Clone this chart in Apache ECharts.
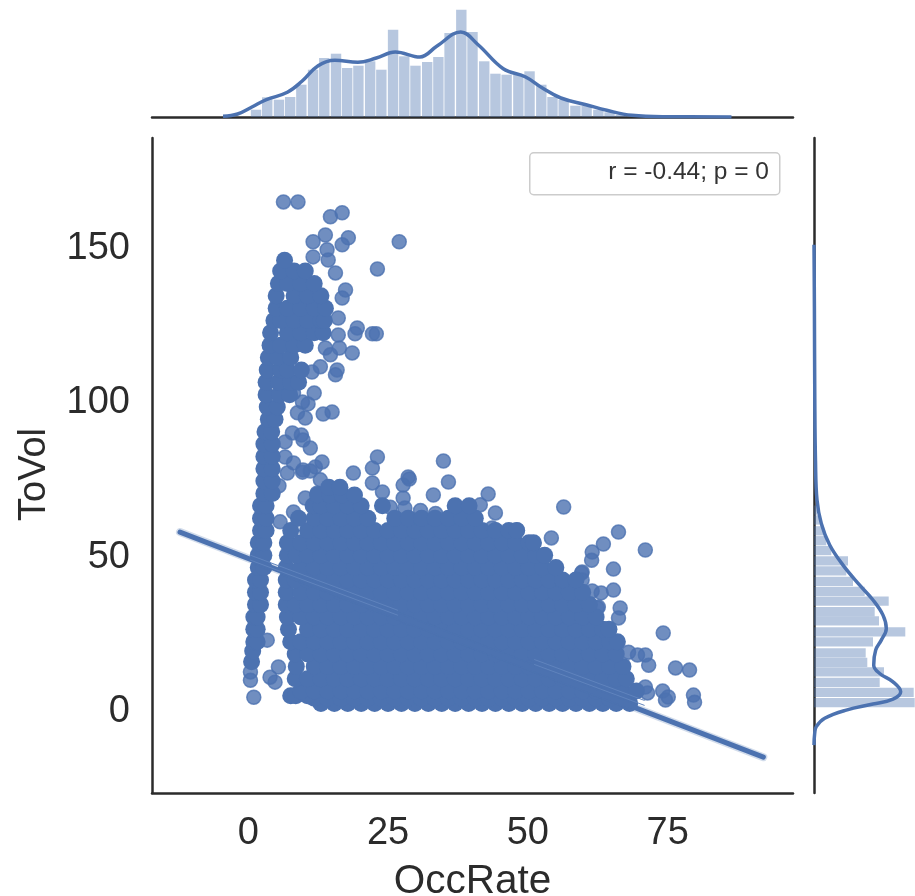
<!DOCTYPE html>
<html>
<head>
<meta charset="utf-8">
<style>
html,body{margin:0;padding:0;background:#fff}
#chart{width:915px;height:896px}
</style>
<script src="https://cdn.jsdelivr.net/npm/echarts@6/dist/echarts.min.js"></script>
</head>
<body>
<div id="chart"></div>
<script>
// tick labels
const occTicks = [0, 25, 50, 75]
const volTicks = [0, 50, 100, 150]

// scatter, solid part: one list of OccRate values per ToVol row
const coreRowY = [1.5, 3.2, 4, 5.5, 9.5, 13.5, 17.5, 21.5, 25.5, 29.5, 33.5, 37.5, 41.5, 45.5, 49.5, 53.5, 57.5, 61.5, 65.5, 69, 71.5]
const coreRowX = [
    [13, 15.4, 17.8, 20.2, 22.6, 25, 27.4, 29.8, 32.2, 34.6, 37, 39.4, 41.8, 44.2, 46.6, 49, 51.4, 53.8, 56.2, 58.6, 61, 63.4, 65.8, 68.2],
    [11.8, 14.2, 16.6, 19, 21.4, 23.8, 26.2, 28.6, 31, 33.4, 35.8, 38.2, 40.6, 43, 45.4, 47.8, 50.2, 52.6, 55, 57.4, 59.8, 62.2, 64.6, 67],
    [7.6, 8.5, 10.6],
    [9.4, 11.8, 14.2, 16.6, 19, 21.4, 23.8, 26.2, 28.6, 31, 33.4, 35.8, 38.2, 40.6, 43, 45.4, 47.8, 50.2, 52.6, 55, 57.4, 59.8, 62.2, 64.6, 67, 69.4],
    [8.4, 10.6, 13, 15.4, 17.8, 20.2, 22.6, 25, 27.4, 29.8, 32.2, 34.6, 37, 39.4, 41.8, 44.2, 46.6, 49, 51.4, 53.8, 56.2, 58.6, 61, 63.4, 65.8, 67.6],
    [8.6, 11.8, 14.2, 16.6, 19, 21.4, 23.8, 26.2, 28.6, 31, 33.4, 35.8, 38.2, 40.6, 43, 45.4, 47.8, 50.2, 52.6, 55, 57.4, 59.8, 62.2, 64.6, 67],
    [8.4, 10.6, 13, 15.4, 17.8, 20.2, 22.6, 25, 27.4, 29.8, 32.2, 34.6, 37, 39.4, 41.8, 44.2, 46.6, 49, 51.4, 53.8, 56.2, 58.6, 61, 63.4, 65.8],
    [7.6, 9.4, 11.8, 14.2, 16.6, 19, 21.4, 23.8, 26.2, 28.6, 31, 33.4, 35.8, 38.2, 40.6, 43, 45.4, 47.8, 50.2, 52.6, 55, 57.4, 59.8, 62.2, 64.6, 66],
    [7.2, 10.6, 13, 15.4, 17.8, 20.2, 22.6, 25, 27.4, 29.8, 32.2, 34.6, 37, 39.4, 41.8, 44.2, 46.6, 49, 51.4, 53.8, 56.2, 58.6, 61, 63.4, 64.5],
    [7, 9.4, 11.8, 14.2, 16.6, 19, 21.4, 23.8, 26.2, 28.6, 31, 33.4, 35.8, 38.2, 40.6, 43, 45.4, 47.8, 50.2, 52.6, 55, 57.4, 59.8, 62.2],
    [6.8, 8.4, 10.6, 13, 15.4, 17.8, 20.2, 22.6, 25, 27.4, 29.8, 32.2, 34.6, 37, 39.4, 41.8, 44.2, 46.6, 49, 51.4, 53.8, 56.2, 58.6, 61],
    [6.8, 9.4, 11.8, 14.2, 16.6, 19, 21.4, 23.8, 26.2, 28.6, 31, 33.4, 35.8, 38.2, 40.6, 43, 45.4, 47.8, 50.2, 52.6, 55, 57.4, 59.8],
    [6.8, 8.4, 10.6, 13, 15.4, 17.8, 20.2, 22.6, 25, 27.4, 29.8, 32.2, 34.6, 37, 39.4, 41.8, 44.2, 46.6, 49, 51.4, 53.8, 56.2, 58.6],
    [6.8, 9.4, 11.8, 14.2, 16.6, 19, 21.4, 23.8, 26.2, 28.6, 31, 33.4, 35.8, 38.2, 40.6, 43, 45.4, 47.8, 50.2, 52.6, 55],
    [7, 8.6, 10.6, 13, 15.4, 17.8, 20.2, 22.6, 25, 27.4, 29.8, 32.2, 34.6, 37, 39.4, 41.8, 44.2, 46.6, 49, 51.4, 53],
    [7, 9.4, 11.8, 14.2, 16.6, 19, 21.4, 23.8, 26.2, 28.6, 31, 33.4, 35.8, 38.2, 40.6, 43, 45.4, 47.8, 50.2, 51],
    [7.6, 10.6, 13, 15.4, 17.8, 20.2, 22.6, 25, 27.4, 29.8, 32.2, 34.6, 37, 39.4, 41.8, 44.2, 46.6, 48],
    [9, 11.8, 14.2, 16.6, 19, 21.4, 26.2, 28.6, 31, 33.4, 35.8, 38.2, 40.6],
    [11.6, 13, 15.4, 17.8, 20.2, 24, 37, 39.5],
    [12.4, 14.6, 16.8, 19],
    [14.4, 16.4]
]

// left strip and tower, same row layout
const towerRowY = [15, 18.5, 21.5, 25.5, 29.5, 33.5, 37.5, 41.5, 45.5, 49.5, 53.5, 57.5, 61.5, 65.5, 69.5, 73.5, 77.5, 81.5, 85.5, 89.5, 93.5, 97.5, 101.5, 105.5, 109.5, 113.5, 117.5, 121.5, 125.5, 129.5, 133.5, 137.5, 141.5, 145]
const towerRowX = [
    [0.6], [0.8], [1, 1.6], [1, 1.6], [1, 1.6], [1.3, 2.2], [1.3, 2.2], [1.3, 2.2], [1.8, 2.8], [1.8, 2.8], [1.8, 2.8], [2.2, 3.2], [2.2, 3.2], [2.2, 3.2],
    [2.8, 4.3], [2.8, 4.3], [2.8, 4.3], [2.8, 4.3], [2.8, 4.3], [3, 4.2], [3.6, 4.8], [3.4, 5.2], [3.2, 5.6, 7.4], [3.2, 5.4, 7.6, 9], [3.4, 5.8, 7, 9.5], [3.6, 5.2, 7.6], [3.9, 5.8, 8.2, 10.2],
    [4, 7, 9.4, 11.8, 13.4], [4.6, 5.8, 8.2, 10.6, 13, 13.6], [5, 7, 9.4, 11.8, 13.8], [5, 8.2, 10.6, 13], [5.4, 7, 9.4, 11.8], [5.8, 8.2, 10.2], [6.5]
]

// scatter, separate points around the edges
const edgeX = [6.3, 8.9, 14.7, 16.8, 13.8, 11.6, 17.9, 16.8, 27, 23.1, 11.6, 14.1, 14.3, 15.6, 17.4, 16.8, 16.1, 19.5, 19.1, 22.2, 22.9, 18.6, 16.3, 16.1, 15.9, 15.6, 11.4, 12.9, 8.9, 13.8, 14.7, 11.8, 8.1, 10.7, 9.7, 10.2, 8.8, 13.4, 15, 7.9, 9.5, 9.8, 11.1, 6.6, 6.6, 8.1, 13.2, 12, 9.8, 23.1, 22.2, 34.9, 18.8, 28.6, 27.7, 24, 27.7, 22.2, 33.1, 35.8, 28.8, 42.9, 41.5, 44.2, 43.6, 48.1, 56.4, 54.2, 61.5, 59.7, 61.5, 62.4, 60.6, 66.2, 71, 63.5, 61.4, 65.3, 59.6, 59.7, 63.1, 65.3, 62.6, 66.5, 66.2, 74.2, 71, 71.6, 76.4, 78.9, 68, 69.6, 71, 74.1, 74.6, 75.1, 79.6, 79.8, 71.4, 5.7, 8.1, 3.4, 5.4, 4.8, 3.9, 0.4, 0.4, 1, 9.7, 11.1, 12.9, 10.2, 12.3, 7, 5.5, 25.4, 28, 30.8, 33.5]
const edgeY = [163.9, 163.9, 159.1, 160.4, 153.2, 151, 152.3, 150, 151, 142.2, 146.1, 148.4, 145.1, 140.9, 135.4, 132.8, 126.3, 123.1, 121.2, 121.2, 121.2, 115, 116.6, 120.8, 109.5, 107.9, 108.8, 110.5, 106.9, 116.6, 114.4, 102, 102, 98.5, 99.1, 93.9, 95.6, 95.2, 95.9, 89.1, 88.4, 86.8, 84.2, 86.2, 81.3, 79.4, 79.7, 78.1, 77.1, 81.3, 77.7, 80, 76.1, 74.8, 72.2, 70, 68, 72.9, 69, 73.2, 74.2, 69.3, 65.8, 63.2, 58.3, 57.7, 65.1, 55.1, 50.5, 44.1, 37.9, 32.4, 32.4, 57, 51.2, 53.1, 47.9, 45, 43.7, 41.5, 37.3, 38.2, 32.7, 32.4, 29.2, 24.3, 17.2, 13.9, 13, 12.3, 18.1, 17.2, 6.8, 5.5, 2.6, 3.6, 4.2, 1.9, 4.9, 60.3, 63.5, 22, 13.3, 8.4, 10, 11.7, 9, 3.5, 76.4, 76.8, 73.9, 68, 69.6, 76.1, 72, 65, 64.8, 64, 63]

// regression line and the edges of its band
const regX = [-12.2, 92.1]
const regY = [57, -15.9]
const bandUpperX = [0.4, 26.7]
const bandUpperY = [49.5, 31.7]
const bandLowerX = [0.4, 26.7]
const bandLowerY = [47.9, 30.1]
const bandUpper2X = [51.2, 70.8]
const bandUpper2Y = [15.7, 2.5]
const bandLower2X = [51.2, 70.8]
const bandLower2Y = [14.1, 0.9]

// top marginal: OccRate histogram and kde
const occBins = [1.4, 3.4, 5.5, 7.5, 9.5, 11.6, 13.6, 15.7, 17.7, 19.7, 21.8, 23.8, 25.9, 27.9, 29.9, 32, 34, 36, 38.1, 40.1, 42.2, 44.2, 46.2, 48.3, 50.3, 52.4, 54.4, 56.4, 58.5, 60.5, 62.6, 64.6, 66.6]
const occBars = [7.3, 19.7, 17.3, 20, 32.3, 47.3, 59, 63.3, 49, 51.3, 55.7, 47.3, 87.3, 60.7, 51.3, 55, 60, 84, 107.3, 85, 55.7, 43.3, 42.3, 42.3, 45.7, 32.3, 20, 17.3, 11.3, 11.3, 7.3, 4.7, 2.3]
const occKdeX = [-4.5, -1.9, 0.66, 3.25, 7, 9.6, 12.5, 15.5, 19.6, 22.9, 26.3, 30.7, 33.7, 38, 41.1, 45.6, 49.6, 52.6, 55.9, 60.4, 64.1, 68.6, 75.3, 86.4]
const occKdeY = [0.7, 3, 10, 17.3, 24.7, 35.7, 51.3, 56.7, 54.7, 59, 65, 60, 70.7, 85, 72.3, 48.3, 40, 29, 19, 12.3, 6.7, 1.7, 0.3, 0]

// right marginal: ToVol histogram and kde
const volBins = [1.8, 5.1, 8.3, 11.7, 14.8, 17.9, 21.4, 24.7, 28.2, 31.2, 34.6, 37.8, 41, 44.4, 47.7, 51, 54.2, 57.4, 60.9, 64.1]
const volBars = [100.7, 99.7, 65.7, 70, 53.3, 51.7, 59, 91.3, 65, 60.7, 74.7, 50.7, 39, 32.3, 34, 17.3, 12.3, 9, 5.7, 3]
const volKdeY = [-12, -8.2, -6, -3.3, -0.65, 1.3, 2.9, 5.3, 8.5, 11.2, 13.9, 18.8, 22, 25.8, 30.1, 35, 39.8, 46.3, 52.8, 59.8, 67.4, 80, 100, 130, 150]
const volKdeX = [0, 0.7, 2.3, 10.7, 32.3, 59, 79, 86.7, 79, 65.7, 59.7, 61.7, 67.3, 72.3, 69, 59, 45.7, 29, 15.7, 7.3, 3, 1.5, 0.8, 0.4, 0]

const BLUE = '#4c72b0'
const INK = '#2b2b2b'
const FONT = '"Liberation Sans", Arial, sans-serif'

const coreData = []
coreRowY.forEach((y, i) => coreRowX[i].forEach(x => coreData.push([x, y])))
towerRowY.forEach((y, i) => towerRowX[i].forEach(x => coreData.push([x, y])))
const edgeData = edgeX.map((x, i) => [x, edgeY[i]])
const zipLine = (xs, ys) => xs.map((x, i) => [x, ys[i]])

// histogram bars in data units, so they follow the axes
const histSeries = (xAxisIndex, yAxisIndex, data, width, horizontal) => ({
    type: 'custom',
    xAxisIndex,
    yAxisIndex,
    silent: true,
    data,
    renderItem: (params, api) => {
        const c = api.value(0)
        const v = api.value(1)
        const p1 = horizontal ? api.coord([0, c + width / 2]) : api.coord([c - width / 2, v])
        const p2 = horizontal ? api.coord([v, c - width / 2]) : api.coord([c + width / 2, 0])
        return {
            type: 'rect',
            shape: { x: p1[0], y: p1[1], width: p2[0] - p1[0], height: p2[1] - p1[1] },
            style: { fill: 'rgba(76,114,176,0.4)' }
        }
    }
})

const thinLine = (xs, ys, color, width) => ({
    type: 'line',
    xAxisIndex: 0,
    yAxisIndex: 0,
    silent: true,
    showSymbol: false,
    data: zipLine(xs, ys),
    lineStyle: { color, width, cap: 'round' },
    z: 5
})

const kdeLine = (xAxisIndex, yAxisIndex, data) => ({
    type: 'line',
    xAxisIndex,
    yAxisIndex,
    silent: true,
    showSymbol: false,
    smooth: 0.4,
    data,
    lineStyle: { color: BLUE, width: 3.5 },
    z: 5
})

const chart = echarts.init(document.getElementById('chart'), null, { renderer: 'canvas' })
chart.setOption({
    animation: false,
    backgroundColor: '#fff',
    textStyle: { fontFamily: FONT },
    grid: [
        { left: 152, top: 138, width: 641, height: 655, outerBoundsMode: 'none' },
        { left: 152, top: 5, width: 641, height: 112, outerBoundsMode: 'none' },
        { left: 814, top: 138, width: 101, height: 655, outerBoundsMode: 'none' }
    ],
    xAxis: [
        {
            type: 'value', gridIndex: 0, min: -17.2, max: 97.4,
            name: 'OccRate', nameLocation: 'middle', nameGap: 68,
            nameTextStyle: { color: INK, fontSize: 40.5, fontFamily: FONT },
            splitLine: { show: false },
            axisLine: { onZero: false, lineStyle: { color: INK, width: 2.5 } },
            axisTick: { show: false },
            axisLabel: { customValues: occTicks, color: INK, fontSize: 38, margin: 22, fontFamily: FONT }
        },
        {
            type: 'value', gridIndex: 1, min: -17.2, max: 97.4,
            splitLine: { show: false },
            axisLine: { onZero: false, lineStyle: { color: INK, width: 2.5 } },
            axisTick: { show: false },
            axisLabel: { show: false }
        },
        {
            type: 'value', gridIndex: 2, min: 0, max: 101,
            show: false
        }
    ],
    yAxis: [
        {
            type: 'value', gridIndex: 0, min: -27.5, max: 184.6,
            name: 'ToVol', nameLocation: 'middle', nameGap: 98,
            nameTextStyle: { color: INK, fontSize: 38, fontFamily: FONT, padding: [0, 18, 0, 0] },
            splitLine: { show: false },
            axisLine: { onZero: false, lineStyle: { color: INK, width: 2.5 } },
            axisTick: { show: false },
            axisLabel: {
                customValues: volTicks,
                margin: 22,
                formatter: '{v|{value}}',
                rich: { v: { color: INK, fontSize: 38, fontFamily: FONT, padding: [7, 0, 0, 0] } }
            }
        },
        {
            type: 'value', gridIndex: 1, min: 0, max: 112,
            show: false
        },
        {
            type: 'value', gridIndex: 2, min: -27.5, max: 184.6,
            splitLine: { show: false },
            axisLine: { onZero: false, lineStyle: { color: INK, width: 2.5 } },
            axisTick: { show: false },
            axisLabel: { show: false }
        }
    ],
    series: [
        {
            type: 'scatter', xAxisIndex: 0, yAxisIndex: 0, silent: true,
            symbolSize: 14,
            data: edgeData,
            itemStyle: { color: 'rgba(76,114,176,0.8)', borderColor: 'rgba(76,114,176,0.8)', borderWidth: 1.5, opacity: 1 },
            z: 2
        },
        {
            type: 'scatter', xAxisIndex: 0, yAxisIndex: 0, silent: true,
            symbolSize: 17,
            data: coreData,
            itemStyle: { color: BLUE, opacity: 1 },
            z: 3
        },
        thinLine(regX, regY, 'rgba(76,114,176,0.25)', 8),
        thinLine(regX, regY, BLUE, 5),
        thinLine(bandUpperX, bandUpperY, '#5f83bd', 1),
        thinLine(bandLowerX, bandLowerY, '#5f83bd', 1),
        thinLine(bandUpper2X, bandUpper2Y, '#5f83bd', 1),
        thinLine(bandLower2X, bandLower2Y, '#5f83bd', 1),
        histSeries(1, 1, zipLine(occBins, occBars), 1.86, false),
        kdeLine(1, 1, zipLine(occKdeX, occKdeY)),
        histSeries(2, 2, zipLine(volBins, volBars), 3.0, true),
        kdeLine(2, 2, zipLine(volKdeX, volKdeY))
    ],
    graphic: [
        {
            type: 'rect', left: 529, top: 152,
            shape: { width: 250, height: 42, r: 4 },
            style: { fill: '#fff', stroke: '#cccccc', lineWidth: 1.5 }
        },
        {
            type: 'text', right: 915 - 769, top: 160,
            style: { text: 'r = -0.44; p = 0', fill: '#333333', font: '24.5px ' + FONT }
        }
    ]
})
</script>
</body>
</html>
